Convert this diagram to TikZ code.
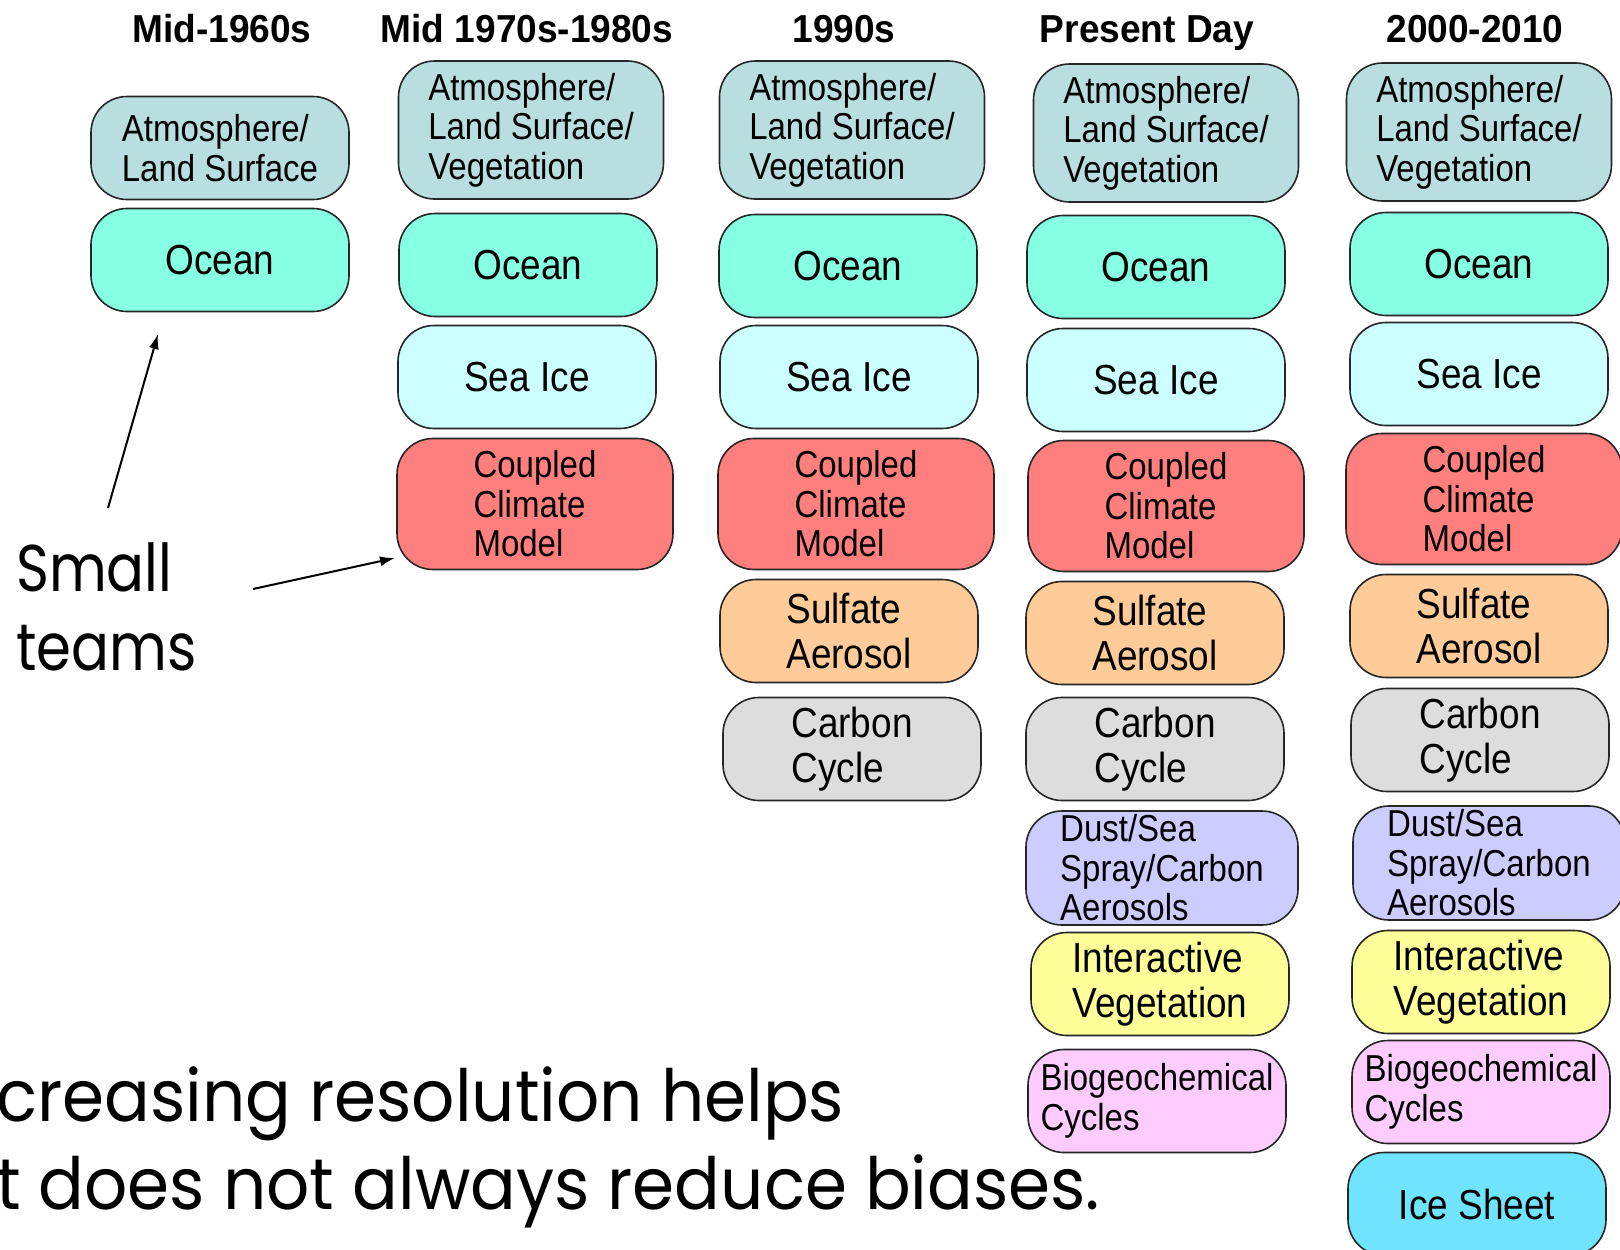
\documentclass[tikz,border=0pt]{standalone}
\usepackage{fontspec}
\setmainfont{Liberation Sans}
\newfontfamily\boxfont[FakeStretch=0.88]{Liberation Sans}
\newfontfamily\yearfont[FakeStretch=0.95]{Liberation Sans}
\newfontfamily\handfont[FakeStretch=0.85]{Poppins}
\newfontfamily\notefont[FakeStretch=0.94]{Poppins}
\usetikzlibrary{arrows.meta}

\definecolor{atmcol}{HTML}{B8DEE0}
\definecolor{ocncol}{HTML}{87FFE3}
\definecolor{icecol}{HTML}{CCFFFF}
\definecolor{cplcol}{HTML}{FF7F7F}
\definecolor{sulcol}{HTML}{FFCC99}
\definecolor{crbcol}{HTML}{DDDDDD}
\definecolor{dstcol}{HTML}{CCCCFF}
\definecolor{vegcol}{HTML}{FFFF99}
\definecolor{biocol}{HTML}{FFCCFF}
\definecolor{ishcol}{HTML}{70E4FF}

\tikzset{
  blk/.style={draw=black!85, line width=1.6pt, rounded corners=36pt,
    minimum width=258pt, minimum height=103pt, inner sep=0pt, align=left,
    font=\boxfont\fontsize{42}{45}\selectfont},
  small/.style={font=\boxfont\fontsize{37.5}{39.5}\selectfont},
  atm/.style={blk, small, fill=atmcol, minimum width=265pt, minimum height=138pt},
  ocn/.style={blk, fill=ocncol},
  ice/.style={blk, fill=icecol},
  cpl/.style={blk, small, fill=cplcol, minimum width=276pt, minimum height=131pt},
  sul/.style={blk, fill=sulcol},
  crb/.style={blk, fill=crbcol},
  dst/.style={blk, small, fill=dstcol, minimum width=272pt, minimum height=114pt},
  veg/.style={blk, fill=vegcol},
  bio/.style={blk, small, fill=biocol},
  ish/.style={blk, fill=ishcol},
  year/.style={anchor=base, font=\yearfont\bfseries\fontsize{39}{40}\selectfont},
  hand/.style={anchor=base west, inner sep=0pt, font=\handfont\fontsize{66}{79}\selectfont},
  note/.style={anchor=base west, inner sep=0pt, font=\notefont\fontsize{72}{88}\selectfont},
  arr/.style={-{Latex[length=15pt,width=10pt]}, line width=2pt}
}

\begin{document}
\begin{tikzpicture}[x=1pt,y=-1pt]
  \useasboundingbox[fill=white] (0,0) rectangle (1620,1250);

  %%%%% Mid-1960s %%%%%
  \node[year] (ta) at (222,42) {Mid-1960s};
  \node[atm, minimum width=258pt, minimum height=103pt] (a1) at (220,148) {Atmosphere/\\Land Surface};
  \node[ocn] (a2) at (220,260) {Ocean};

  %%%%% Mid 1970s-1980s %%%%%
  \node[year] (tb) at (527,42) {Mid 1970s-1980s};
  \node[atm] (b1) at (531,130) {Atmosphere/\\Land Surface/\\Vegetation};
  \node[ocn] (b2) at (528,265) {Ocean};
  \node[ice] (b3) at (527,377) {Sea Ice};
  \node[cpl] (b4) at (535,504) {Coupled\\Climate\\Model};

  %%%%% 1990s %%%%%
  \node[year] (tc) at (844,42) {1990s};
  \node[atm] (c1) at (852,130) {Atmosphere/\\Land Surface/\\Vegetation};
  \node[ocn] (c2) at (848,266) {Ocean};
  \node[ice] (c3) at (849,377) {Sea Ice};
  \node[cpl] (c4) at (856,504) {Coupled\\Climate\\Model};
  \node[sul] (c5) at (849,631) {Sulfate\\Aerosol};
  \node[crb] (c6) at (852,749) {Carbon\\Cycle};

  %%%%% Present Day %%%%%
  \node[year] (td) at (1147,42) {Present Day};
  \node[atm] (d1) at (1166,133) {Atmosphere/\\Land Surface/\\Vegetation};
  \node[ocn] (d2) at (1156,267) {Ocean};
  \node[ice] (d3) at (1156,380) {Sea Ice};
  \node[cpl] (d4) at (1166,506) {Coupled\\Climate\\Model};
  \node[sul] (d5) at (1155,633) {Sulfate\\Aerosol};
  \node[crb] (d6) at (1155,749) {Carbon\\Cycle};
  \node[dst] (d7) at (1162,868) {Dust/Sea\\Spray/Carbon\\Aerosols};
  \node[veg] (d8) at (1160,984) {Interactive\\Vegetation};
  \node[bio] (d9) at (1157,1101) {Biogeochemical\\Cycles};

  %%%%% 2000-2010 %%%%%
  \node[year] (te) at (1475,42) {2000-2010};
  \node[atm] (e1) at (1479,132) {Atmosphere/\\Land Surface/\\Vegetation};
  \node[ocn] (e2) at (1479,264) {Ocean};
  \node[ice] (e3) at (1479,374) {Sea Ice};
  \node[cpl] (e4) at (1484,499) {Coupled\\Climate\\Model};
  \node[sul] (e5) at (1479,626) {Sulfate\\Aerosol};
  \node[crb] (e6) at (1480,740) {Carbon\\Cycle};
  \node[dst] (e7) at (1489,863) {Dust/Sea\\Spray/Carbon\\Aerosols};
  \node[veg] (e8) at (1481,982) {Interactive\\Vegetation};
  \node[bio] (e9) at (1481,1092) {Biogeochemical\\Cycles};
  \node[ish] (e10) at (1477,1204) {Ice Sheet};

  %%%%% notes %%%%%
  \node[hand] (sml) at (16,591) {Small};
  \node[hand] (tms) at (16,670) {teams};
  \coordinate (p1) at (108,508);
  \coordinate (q1) at (158,334);
  \coordinate (p2) at (253,589);
  \coordinate (q2) at (395,558);
  \draw[arr] (p1) -- (q1);
  \draw[arr] (p2) -- (q2);

  \node[note] (res1) at (-4,1121) {creasing resolution helps};
  \node[note] (res2) at (-4,1209) {t does not always reduce biases.};
\end{tikzpicture}
\end{document}
